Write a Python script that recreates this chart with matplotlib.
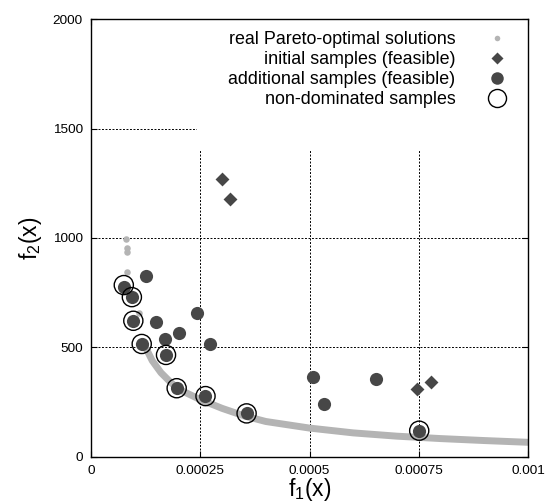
import matplotlib
matplotlib.use("Agg")
import matplotlib.pyplot as plt
from matplotlib.lines import Line2D
from matplotlib.patches import Rectangle

plt.rcParams["font.family"] = ["Liberation Sans", "DejaVu Sans"]
plt.rcParams["mathtext.default"] = "regular"

# real Pareto-optimal front (read along the gray band)
pareto_f1 = [0.000125, 0.00014, 0.00016, 0.00018, 0.0002, 0.00025, 0.0003, 0.00035,
             0.0004, 0.0005, 0.0006, 0.0007, 0.0008, 0.0009, 0.001]
pareto_f2 = [500, 440, 385, 345, 310, 262, 222, 188, 162, 132, 110, 95, 84, 75, 67]
# isolated Pareto points near the upper left
pareto_pts_f1 = [0.0000794, 0.0000831, 0.0000831, 0.0000831, 0.0001105]
pareto_pts_f2 = [994, 953, 935, 846, 659]

init_f1 = [0.0003005, 0.0003188, 0.000746, 0.000778]
init_f2 = [1269, 1178, 309, 341]

add_f1 = [0.0000763, 0.0000931, 0.000125, 0.0000968, 0.0001487, 0.000116, 0.000169,
          0.000201, 0.000243, 0.000272, 0.0001716, 0.000196, 0.000261, 0.000356,
          0.000509, 0.000532, 0.000652, 0.000751]
add_f2 = [778, 732, 826, 622, 615, 516, 539, 565, 656, 515, 466, 314, 280, 199,
          367, 241, 356, 120]

nd_f1 = [0.0000750, 0.0000935, 0.0000968, 0.000116, 0.0001716, 0.000196, 0.000262,
         0.000356, 0.000751]
nd_f2 = [785, 730, 622, 516, 466, 314, 278, 199, 120]

xticks = [0, 0.00025, 0.0005, 0.00075, 0.001]
xtick_labels = ["0", "0.00025", "0.0005", "0.00075", "0.001"]
yticks = [0, 500, 1000, 1500, 2000]

labels = ["real Pareto-optimal solutions", "initial samples (feasible)",
          "additional samples (feasible)", "non-dominated samples"]

GRAY = "#b4b4b4"
DARK = "#474747"

fig = plt.figure(figsize=(5.47, 5.03), dpi=100)
ax = fig.add_axes([0.1664, 0.0915, 0.7989, 0.8707])

ax.plot(pareto_f1, pareto_f2, color=GRAY, lw=5, solid_capstyle="round", zorder=2)
ax.scatter(pareto_pts_f1, pareto_pts_f2, s=22, color=GRAY, lw=0, zorder=2)
ax.scatter(init_f1, init_f2, marker="D", s=50, color=DARK, lw=0, zorder=3)
ax.scatter(add_f1, add_f2, marker="o", s=90, color=DARK, lw=0, zorder=3)
ax.scatter(nd_f1, nd_f2, marker="o", s=190, facecolor="none", edgecolor="black", lw=1.0, zorder=4)

ax.set_xlim(0, 0.001)
ax.set_ylim(0, 2000)
ax.set_xticks(xticks)
ax.set_xticklabels(xtick_labels)
ax.set_yticks(yticks)
ax.tick_params(direction="in", top=True, right=True, labelsize=9.7, length=4, pad=6)
ax.grid(True, color="black", ls=(0, (2, 1.6)), lw=0.7)
ax.set_axisbelow(True)
for s in ax.spines.values():
    s.set_linewidth(1.0)

# white patch behind legend hides the grid, as in the original
ax.add_patch(Rectangle((0.2426, 0.70), 0.757, 0.30, transform=ax.transAxes,
                       facecolor="white", edgecolor="none", zorder=1.5))

ax.set_xlabel("f$_1$(x)", fontsize=16.5, labelpad=-1)
ax.set_ylabel("f$_2$(x)", fontsize=16.5, labelpad=6)

handles = [
    Line2D([], [], ls="none", marker="o", ms=4, color=GRAY, mec="none"),
    Line2D([], [], ls="none", marker="D", ms=6.5, color=DARK, mec="none"),
    Line2D([], [], ls="none", marker="o", ms=9, color=DARK, mec="none"),
    Line2D([], [], ls="none", marker="o", ms=13, mfc="none", mec="black", mew=1.0),
]
ax.legend(handles, labels, loc="upper right", bbox_to_anchor=(0.994, 0.997),
          markerfirst=False, frameon=False, fontsize=12.9, labelspacing=0.17,
          handletextpad=1.3, borderaxespad=0.2)

fig.savefig("out.png", dpi=100)
